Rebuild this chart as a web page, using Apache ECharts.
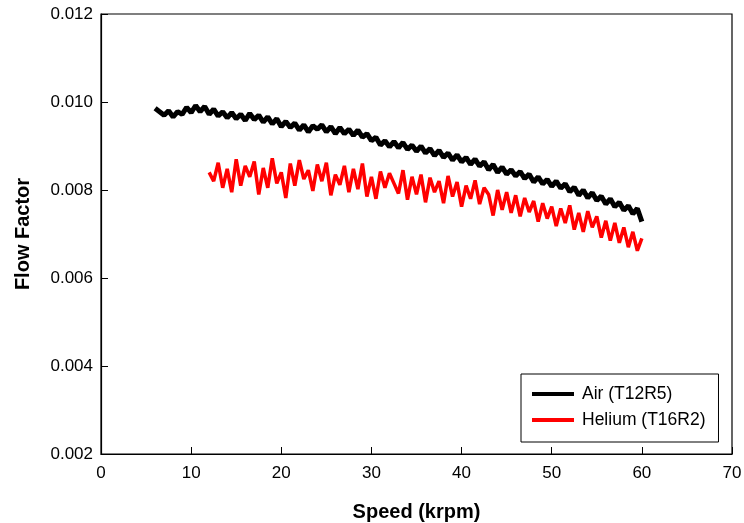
<!DOCTYPE html>
<html>
<head>
<meta charset="utf-8">
<script src="https://cdn.jsdelivr.net/npm/echarts@6/dist/echarts.min.js"></script>
<style>html,body{margin:0;padding:0;background:#fff}#c{width:744px;height:523px}</style>
</head>
<body>
<div id="c"></div>
<script>
const seriesNames = ['Air (T12R5)', 'Helium (T16R2)'];
const xTicks = [0, 10, 20, 30, 40, 50, 60, 70];
const yTicks = ['0.002', '0.004', '0.006', '0.008', '0.010', '0.012'];

const airSpeed = [6.0,6.5,7.0,7.5,8.0,8.5,9.0,9.5,10.0,10.5,11.0,11.5,12.0,12.5,13.0,13.5,14.0,14.5,15.0,15.5,16.0,16.5,17.0,17.5,18.0,18.5,19.0,19.5,20.0,20.5,21.0,21.5,22.0,22.5,23.0,23.5,24.0,24.5,25.0,25.5,26.0,26.5,27.0,27.5,28.0,28.5,29.0,29.5,30.0,30.5,31.0,31.5,32.0,32.5,33.0,33.5,34.0,34.5,35.0,35.5,36.0,36.5,37.0,37.5,38.0,38.5,39.0,39.5,40.0,40.5,41.0,41.5,42.0,42.5,43.0,43.5,44.0,44.5,45.0,45.5,46.0,46.5,47.0,47.5,48.0,48.5,49.0,49.5,50.0,50.5,51.0,51.5,52.0,52.5,53.0,53.5,54.0,54.5,55.0,55.5,56.0,56.5,57.0,57.5,58.0,58.5,59.0,59.5,60.0];
const airFlow = [0.00986,0.00978,0.00970,0.00980,0.00966,0.00978,0.00972,0.00988,0.00976,0.00992,0.00978,0.00990,0.00972,0.00984,0.00968,0.00978,0.00964,0.00976,0.00962,0.00972,0.00958,0.00974,0.00960,0.00970,0.00954,0.00966,0.00950,0.00962,0.00944,0.00956,0.00942,0.00952,0.00936,0.00948,0.00932,0.00946,0.00938,0.00948,0.00932,0.00944,0.00928,0.00942,0.00928,0.00938,0.00924,0.00936,0.00920,0.00928,0.00912,0.00920,0.00902,0.00912,0.00898,0.00910,0.00896,0.00908,0.00892,0.00902,0.00888,0.00900,0.00884,0.00894,0.00878,0.00890,0.00874,0.00884,0.00868,0.00880,0.00864,0.00874,0.00858,0.00870,0.00854,0.00864,0.00846,0.00858,0.00840,0.00852,0.00836,0.00846,0.00832,0.00842,0.00826,0.00836,0.00818,0.00830,0.00814,0.00824,0.00808,0.00820,0.00804,0.00814,0.00796,0.00806,0.00788,0.00800,0.00782,0.00794,0.00776,0.00786,0.00768,0.00780,0.00762,0.00772,0.00754,0.00764,0.00746,0.00758,0.00728];

const heliumSpeed = [12.0,12.5,13.0,13.5,14.0,14.5,15.0,15.5,16.0,16.5,17.0,17.5,18.0,18.5,19.0,19.5,20.0,20.5,21.0,21.5,22.0,22.5,23.0,23.5,24.0,24.5,25.0,25.5,26.0,26.5,27.0,27.5,28.0,28.5,29.0,29.5,30.0,30.5,31.0,31.5,32.0,32.5,33.0,33.5,34.0,34.5,35.0,35.5,36.0,36.5,37.0,37.5,38.0,38.5,39.0,39.5,40.0,40.5,41.0,41.5,42.0,42.5,43.0,43.5,44.0,44.5,45.0,45.5,46.0,46.5,47.0,47.5,48.0,48.5,49.0,49.5,50.0,50.5,51.0,51.5,52.0,52.5,53.0,53.5,54.0,54.5,55.0,55.5,56.0,56.5,57.0,57.5,58.0,58.5,59.0,59.5,60.0];
const heliumFlow = [0.00840,0.00820,0.00862,0.00805,0.00848,0.00795,0.00870,0.00810,0.00855,0.00830,0.00865,0.00790,0.00850,0.00805,0.00872,0.00815,0.00840,0.00782,0.00860,0.00810,0.00868,0.00825,0.00845,0.00798,0.00858,0.00820,0.00862,0.00788,0.00835,0.00812,0.00855,0.00795,0.00848,0.00802,0.00860,0.00785,0.00830,0.00780,0.00842,0.00805,0.00838,0.00815,0.00792,0.00845,0.00778,0.00830,0.00790,0.00835,0.00772,0.00828,0.00795,0.00820,0.00770,0.00832,0.00785,0.00818,0.00762,0.00810,0.00780,0.00822,0.00768,0.00805,0.00790,0.00742,0.00800,0.00755,0.00795,0.00748,0.00788,0.00740,0.00782,0.00750,0.00775,0.00728,0.00770,0.00735,0.00762,0.00718,0.00758,0.00725,0.00765,0.00710,0.00748,0.00705,0.00752,0.00715,0.00740,0.00692,0.00730,0.00685,0.00725,0.00680,0.00715,0.00670,0.00705,0.00662,0.00690];

const pairs = (xs, ys) => xs.map((x, i) => [x, ys[i]]);
const font = 'Arial, "Liberation Sans", sans-serif';

const chart = echarts.init(document.getElementById('c'), null, {renderer: 'canvas'});
chart.setOption({
  animation: false,
  backgroundColor: '#fff',
  grid: {left: 101, right: 12, top: 14, bottom: 69, outerBoundsMode: 'none', containLabel: false,
         show: true, borderColor: '#000', borderWidth: 1.2, backgroundColor: 'transparent'},
  legend: {
    left: 521, top: 374, orient: 'vertical',
    data: seriesNames.map(n => ({name: n, icon: 'rect'})),
    itemWidth: 42, itemHeight: 4, itemGap: 8,
    padding: [11, 13, 13, 11],
    borderColor: '#000', borderWidth: 1, backgroundColor: '#fff',
    textStyle: {fontFamily: font, fontSize: 17.5, color: '#000', lineHeight: 18, padding: [0,0,0,3]}
  },
  xAxis: {
    type: 'value', min: xTicks[0], max: xTicks[xTicks.length - 1], interval: 10,
    name: 'Speed (krpm)', nameLocation: 'middle', nameGap: 48,
    nameTextStyle: {fontFamily: font, fontSize: 20, fontWeight: 'bold', color: '#000'},
    axisLine: {lineStyle: {color: '#000', width: 1.2}},
    axisTick: {inside: true, length: 7, lineStyle: {color: '#000'}},
    axisLabel: {fontFamily: font, fontSize: 17, color: '#000', margin: 11},
    splitLine: {show: false}
  },
  yAxis: {
    type: 'value', min: 0.002, max: 0.012, interval: 0.002,
    name: 'Flow Factor', nameLocation: 'middle', nameGap: 68,
    nameTextStyle: {fontFamily: font, fontSize: 20, fontWeight: 'bold', color: '#000'},
    axisLine: {show: true, lineStyle: {color: '#000', width: 1.2}},
    axisTick: {show: true, inside: true, length: 7, lineStyle: {color: '#000'}},
    axisLabel: {fontFamily: font, fontSize: 17, color: '#000', margin: 8,
      formatter: v => { const s = v.toFixed(3); return yTicks.includes(s) ? s : ''; }},
    splitLine: {show: false}
  },
  series: [
    {name: seriesNames[0], type: 'line', data: pairs(airSpeed, airFlow), showSymbol: false, symbol: 'none',
     lineStyle: {color: '#000', width: 5}, itemStyle: {color: '#000'}},
    {name: seriesNames[1], type: 'line', data: pairs(heliumSpeed, heliumFlow), showSymbol: false, symbol: 'none',
     lineStyle: {color: '#ff0000', width: 3.5}, itemStyle: {color: '#ff0000'}}
  ]
});
</script>
</body>
</html>
